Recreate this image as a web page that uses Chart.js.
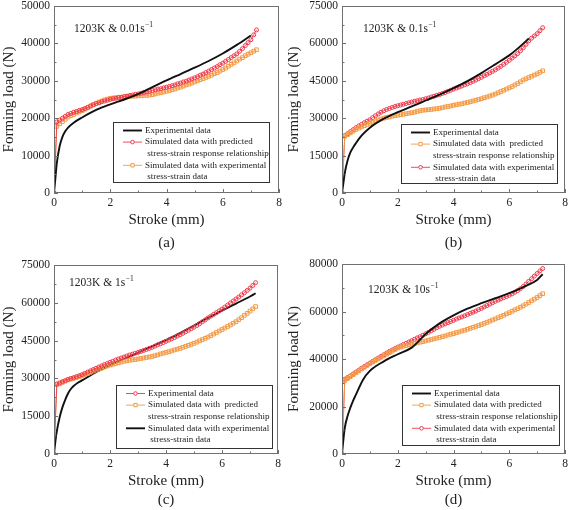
<!DOCTYPE html>
<html>
<head>
<meta charset="utf-8">
<script src="https://cdn.jsdelivr.net/npm/chart.js@4.4.0/dist/chart.umd.min.js"></script>
<style>
    body { margin: 0; background: #fff; }
    #wrap { position: relative; width: 570px; height: 510px; }
    canvas { position: absolute; }
</style>
</head>
<body>
<div id="wrap">
    <canvas id="panel-a" width="285" height="255" style="left:0;top:0"></canvas>
    <canvas id="panel-b" width="285" height="255" style="left:285px;top:0"></canvas>
    <canvas id="panel-c" width="285" height="255" style="left:0;top:255px"></canvas>
    <canvas id="panel-d" width="285" height="255" style="left:285px;top:255px"></canvas>
</div>
<script>
// Stroke positions of the simulated (marker) series, mm
const simStroke = [
    0, 0.1, 0.2, 0.3, 0.4, 0.5, 0.6, 0.7, 0.8, 0.9,
    1.0, 1.1, 1.2, 1.3, 1.4, 1.5, 1.6, 1.7, 1.8, 1.9,
    2.0, 2.1, 2.2, 2.3, 2.4, 2.5, 2.6, 2.7, 2.8, 2.9,
    3.0, 3.1, 3.2, 3.3, 3.4, 3.5, 3.6, 3.7, 3.8, 3.9,
    4.0, 4.1, 4.2, 4.3, 4.4, 4.5, 4.6, 4.7, 4.8, 4.9,
    5.0, 5.1, 5.2, 5.3, 5.4, 5.5, 5.6, 5.7, 5.8, 5.9,
    6.0, 6.1, 6.2, 6.3, 6.4, 6.5, 6.6, 6.7, 6.8, 6.9,
    7.0, 7.1, 7.2
];

// (a) 1203K & 0.01/s
const aExpStroke = [0, 0.05, 0.1, 0.2, 0.3, 0.4, 0.5, 0.7, 1.0, 1.5, 2.0, 2.5, 3.0, 3.5, 4.0, 4.5, 5.0, 5.5, 6.0, 6.5, 7.0];
const aExpLoad = [0, 4000, 8000, 12500, 15000, 16500, 17500, 18800, 20200, 22200, 23700, 25000, 26500, 28300, 30100, 31800, 33500, 35300, 37300, 39600, 42100];
const aPredLoad = [
    0, 19000, 19500, 20000, 20500, 21000, 21300, 21600, 21800, 22100,
    22300, 22600, 22900, 23300, 23600, 23900, 24100, 24400, 24600, 24800,
    25000, 25200, 25300, 25500, 25600, 25800, 25900, 26100, 26200, 26400,
    26500, 26700, 26900, 27000, 27200, 27400, 27600, 27800, 27900, 28100,
    28300, 28500, 28700, 28900, 29200, 29400, 29700, 29900, 30200, 30500,
    30800, 31100, 31500, 31800, 32200, 32600, 33000, 33400, 33800, 34300,
    34700, 35200, 35700, 36200, 36700, 37200, 37900, 38600, 39400, 40200,
    41000, 42300, 43600
];
const aSimExpLoad = [
    0, 17800, 18500, 19100, 19700, 20300, 20700, 21000, 21400, 21700,
    22000, 22400, 22800, 23200, 23600, 24000, 24300, 24600, 24900, 25100,
    25300, 25400, 25500, 25600, 25600, 25700, 25800, 25800, 25900, 25900,
    26000, 26000, 26100, 26100, 26200, 26300, 26500, 26700, 26800, 27000,
    27200, 27400, 27600, 27800, 28100, 28300, 28600, 28900, 29100, 29400,
    29700, 30000, 30300, 30600, 30900, 31200, 31500, 31900, 32200, 32600,
    33000, 33400, 33900, 34400, 34800, 35300, 35800, 36200, 36700, 37100,
    37500, 37900, 38300
];

// (b) 1203K & 0.1/s
const bExpStroke = [0, 0.05, 0.1, 0.2, 0.3, 0.4, 0.5, 0.7, 1.0, 1.5, 2.0, 2.5, 3.0, 3.5, 4.0, 4.5, 5.0, 5.5, 6.0, 6.3, 6.6, 6.7];
const bExpLoad = [0, 4000, 8000, 13000, 16300, 18300, 20000, 23000, 26200, 29800, 32400, 34700, 37100, 39500, 42100, 44900, 48100, 51600, 55200, 57900, 60900, 62000];
const bPredLoad = [
    0, 22800, 23400, 24100, 24800, 25500, 26000, 26500, 27000, 27500,
    28000, 28400, 28900, 29300, 29700, 30000, 30300, 30500, 30800, 31000,
    31200, 31400, 31600, 31800, 32000, 32200, 32400, 32700, 33000, 33200,
    33300, 33400, 33500, 33700, 33800, 34000, 34200, 34500, 34700, 34900,
    35200, 35400, 35600, 35800, 36100, 36300, 36600, 36900, 37200, 37500,
    37800, 38200, 38500, 38900, 39300, 39700, 40200, 40700, 41200, 41700,
    42200, 42700, 43300, 43900, 44600, 45300, 45800, 46300, 46800, 47300,
    47800, 48400, 49000
];
const bSimExpLoad = [
    0, 23000, 23800, 24600, 25400, 26200, 26900, 27500, 28200, 28800,
    29400, 30200, 31000, 31700, 32400, 33000, 33500, 33900, 34300, 34700,
    35000, 35300, 35600, 35900, 36200, 36500, 36800, 37000, 37300, 37500,
    37800, 38100, 38500, 38800, 39200, 39500, 39900, 40300, 40800, 41200,
    41700, 42100, 42500, 42900, 43400, 43800, 44300, 44800, 45300, 45900,
    46400, 47000, 47600, 48200, 48800, 49400, 50100, 50800, 51600, 52400,
    53200, 54100, 55000, 55900, 57000, 58200, 59600, 61000, 62100, 63000,
    63900, 65100, 66300
];

// (c) 1203K & 1/s
const cExpLoad = [
    0, 27800, 28200, 28700, 29100, 29600, 30000, 30300, 30700, 31100,
    31500, 32000, 32500, 33000, 33500, 34000, 34500, 35000, 35500, 35900,
    36400, 36800, 37300, 37700, 38100, 38500, 38900, 39300, 39600, 40000,
    40300, 40700, 41100, 41500, 41900, 42300, 42800, 43300, 43700, 44200,
    44700, 45200, 45700, 46200, 46800, 47300, 47900, 48500, 49100, 49700,
    50300, 51000, 51700, 52500, 53200, 54000, 54700, 55400, 56100, 56800,
    57500, 58300, 59100, 59900, 60700, 61500, 62300, 63200, 64000, 64900,
    65800, 66900, 68000
];
const cPredLoad = [
    0, 27500, 27900, 28400, 28900, 29400, 29700, 30000, 30300, 30700,
    31000, 31500, 31900, 32400, 32900, 33300, 33700, 34100, 34500, 34900,
    35300, 35600, 35900, 36200, 36500, 36800, 37000, 37200, 37400, 37500,
    37700, 37900, 38100, 38300, 38500, 38700, 39000, 39300, 39700, 40000,
    40300, 40600, 40900, 41300, 41600, 41900, 42300, 42700, 43100, 43500,
    43900, 44400, 44900, 45400, 45900, 46400, 47000, 47600, 48200, 48800,
    49400, 50000, 50600, 51200, 51900, 52500, 53300, 54100, 55000, 55800,
    56700, 57600, 58500
];
const cSimExpStroke = [0, 0.05, 0.1, 0.2, 0.3, 0.4, 0.5, 0.6, 0.7, 0.85, 1.0, 1.5, 2.0, 2.5, 3.0, 3.5, 4.0, 4.5, 5.0, 5.5, 6.0, 6.5, 7.0, 7.2];
const cSimExpLoad = [0, 5000, 9000, 14500, 18500, 21500, 24000, 25800, 27000, 28300, 29200, 32500, 35200, 37700, 40200, 42700, 45300, 48000, 51000, 54000, 56900, 59700, 62500, 63800];

// (d) 1203K & 10/s
const dExpStroke = [0, 0.05, 0.1, 0.2, 0.3, 0.4, 0.5, 0.75, 1.0, 1.5, 2.0, 2.5, 2.75, 3.0, 3.5, 4.0, 4.5, 5.0, 5.5, 6.0, 6.5, 7.0, 7.2];
const dExpLoad = [0, 6000, 11000, 16000, 19500, 22500, 25000, 31200, 35000, 39000, 42000, 44800, 47500, 50500, 55000, 58400, 61200, 63500, 65600, 67700, 70300, 73300, 75700];
const dPredLoad = [
    0, 31000, 31800, 32600, 33400, 34200, 35000, 35800, 36500, 37300,
    38000, 38700, 39400, 40000, 40700, 41300, 42000, 42700, 43300, 44000,
    44600, 45000, 45400, 45700, 46000, 46300, 46600, 46800, 47100, 47300,
    47600, 47900, 48200, 48500, 48800, 49100, 49400, 49700, 50100, 50400,
    50700, 51100, 51400, 51800, 52100, 52500, 52900, 53300, 53700, 54100,
    54500, 55000, 55400, 55900, 56400, 56900, 57400, 57900, 58400, 59000,
    59500, 60100, 60700, 61200, 61800, 62400, 63100, 63800, 64500, 65200,
    65900, 66700, 67500
];
const dSimExpLoad = [
    0, 31500, 32200, 32900, 33700, 34500, 35300, 36100, 36800, 37600,
    38300, 39000, 39700, 40400, 41100, 41800, 42500, 43200, 43800, 44400,
    45000, 45500, 46100, 46600, 47200, 47700, 48300, 48900, 49400, 50000,
    50600, 51200, 51900, 52500, 53200, 53800, 54300, 54800, 55300, 55800,
    56300, 56800, 57300, 57700, 58200, 58700, 59200, 59700, 60200, 60800,
    61300, 61900, 62500, 63100, 63700, 64300, 64800, 65300, 65800, 66300,
    66800, 67400, 68100, 68800, 69600, 70500, 71600, 72700, 73800, 74900,
    76000, 77100, 78100
];

// Legend texts
const LBL_EXP = 'Experimental data';
const LBL_PRED = 'Simulated data with predicted\n stress-strain response relationship';
const LBL_PRED2 = 'Simulated data with  predicted\nstress-strain response relationship';
const LBL_SIMEXP = 'Simulated data with experimental\n stress-strain data';

const RED = '#ee3a4c';
const ORANGE = '#f49a44';
const BLACK = '#111111';
const SERIF = '"Liberation Serif", "DejaVu Serif", serif';

function pts(xs, ys) {
    return xs.map((x, i) => ({ x: x, y: ys[i] }));
}

// Solid curve without markers
function lineSeries(label, xs, ys) {
    return {
        label: label,
        data: pts(xs, ys),
        borderColor: BLACK,
        borderWidth: 1.9,
        pointRadius: 0,
        cubicInterpolationMode: 'monotone'
    };
}

// Thin line with hollow markers
function markSeries(label, xs, ys, color, style) {
    return {
        label: label,
        data: pts(xs, ys),
        borderColor: color,
        borderWidth: 0.9,
        tension: 0,
        pointStyle: style,
        pointRadius: style === 'rect' ? 2.6 : 2.0,
        pointBorderWidth: 1,
        pointBorderColor: color,
        pointBackgroundColor: 'rgba(255,255,255,0)'
    };
}

// Frame, inward ticks, condition text and boxed legend
const panelDecor = {
    id: 'panelDecor',
    afterDatasetsDraw(chart, args, opts) {
        const ctx = chart.ctx;
        const area = chart.chartArea;
        const xs = chart.scales.x;
        const ys = chart.scales.y;
        ctx.save();

        ctx.strokeStyle = '#707070';
        ctx.lineWidth = 1;
        ctx.strokeRect(area.left + 0.5, area.top + 0.5, area.right - area.left - 1, area.bottom - area.top - 1);

        ctx.beginPath();
        xs.ticks.forEach(t => {
            const px = Math.round(xs.getPixelForValue(t.value)) + 0.5;
            const len = t.value % 2 === 0 ? 4 : 2.5;
            ctx.moveTo(px, area.bottom);
            ctx.lineTo(px, area.bottom - len);
        });
        ys.ticks.forEach((t, i) => {
            const py = Math.round(ys.getPixelForValue(t.value)) + 0.5;
            const len = i % 2 === 0 ? 4 : 2.5;
            ctx.moveTo(area.left, py);
            ctx.lineTo(area.left + len, py);
        });
        ctx.stroke();

        // condition text, e.g. 1203K & 0.01s^-1
        ctx.fillStyle = '#222';
        ctx.textBaseline = 'middle';
        ctx.textAlign = 'left';
        ctx.font = '11.5px ' + SERIF;
        ctx.fillText(opts.note, opts.noteX, opts.noteY);
        const w = ctx.measureText(opts.note).width;
        ctx.font = '7.5px ' + SERIF;
        ctx.fillText('\u22121', opts.noteX + w + 0.5, opts.noteY - 4);

        // legend box
        const b = opts.box;
        ctx.fillStyle = '#fff';
        ctx.fillRect(b[0], b[1], b[2], b[3]);
        ctx.strokeStyle = '#333';
        ctx.lineWidth = 1;
        ctx.strokeRect(b[0] + 0.5, b[1] + 0.5, b[2], b[3]);

        ctx.font = '9px ' + SERIF;
        let row = 0;
        chart.data.datasets.forEach(ds => {
            const y = b[1] + 8.5 + row * 11.6;
            const x0 = b[0] + 10;
            const x1 = b[0] + 29;
            ctx.strokeStyle = ds.borderColor;
            ctx.lineWidth = ds.borderWidth;
            ctx.beginPath();
            ctx.moveTo(x0, y);
            ctx.lineTo(x1, y);
            ctx.stroke();
            if (ds.pointRadius > 0) {
                ctx.fillStyle = '#fff';
                ctx.strokeStyle = ds.pointBorderColor;
                ctx.lineWidth = ds.pointBorderWidth;
                Chart.helpers.drawPoint(ctx, {
                    pointStyle: ds.pointStyle,
                    radius: ds.pointRadius * 0.9,
                    borderWidth: ds.pointBorderWidth,
                    rotation: 0
                }, (x0 + x1) / 2, y);
            }
            ctx.fillStyle = '#222';
            ds.label.split('\n').forEach(line => {
                ctx.fillText(line, b[0] + 32, b[1] + 8.5 + row * 11.6);
                row++;
            });
        });

        ctx.restore();
    }
};

function makePanel(id, cfg) {
    const tickFont = { family: SERIF, size: 11.5 };
    return new Chart(document.getElementById(id), {
        type: 'line',
        data: { datasets: cfg.datasets },
        options: {
            responsive: false,
            animation: false,
            events: [],
            layout: { padding: { left: 0, top: cfg.top, right: cfg.right, bottom: 0 } },
            plugins: {
                legend: { display: false },
                tooltip: { enabled: false },
                panelDecor: { note: cfg.note, noteX: cfg.noteX, noteY: cfg.noteY, box: cfg.box }
            },
            scales: {
                x: {
                    type: 'linear',
                    min: 0,
                    max: 8,
                    grid: { display: false, drawTicks: false },
                    border: { display: false },
                    ticks: {
                        stepSize: 1,
                        autoSkip: false,
                        maxRotation: 0,
                        padding: 3,
                        color: '#222',
                        font: tickFont,
                        callback: v => (v % 2 === 0 ? String(v) : '')
                    },
                    title: {
                        display: true,
                        text: ['Stroke (mm)', cfg.tag],
                        color: '#222',
                        font: { family: SERIF, size: 15, lineHeight: cfg.titleLH },
                        padding: { top: 0, bottom: cfg.titlePad }
                    },
                    afterFit: s => {
                        s.height = cfg.xHeight;
                        s.paddingLeft = 0; s.paddingRight = 0; s.paddingTop = 0; s.paddingBottom = 0;
                    }
                },
                y: {
                    min: 0,
                    max: cfg.yMax,
                    grid: { display: false, drawTicks: false },
                    border: { display: false },
                    ticks: {
                        stepSize: cfg.yStep,
                        autoSkip: false,
                        padding: 4,
                        color: '#222',
                        font: tickFont,
                        callback: (v, i) => (i % 2 === 0 ? String(v) : '')
                    },
                    title: {
                        display: true,
                        text: 'Forming load (N)',
                        color: '#222',
                        font: { family: SERIF, size: 15, lineHeight: 1.2 },
                        padding: { top: 0, bottom: 0 }
                    },
                    afterFit: s => {
                        s.width = cfg.yWidth;
                        s.paddingLeft = 0; s.paddingRight = 0; s.paddingTop = 0; s.paddingBottom = 0;
                    }
                }
            }
        },
        plugins: [panelDecor]
    });
}

makePanel('panel-a', {
    datasets: [
        lineSeries(LBL_EXP, aExpStroke, aExpLoad),
        markSeries(LBL_PRED, simStroke, aPredLoad, RED, 'circle'),
        markSeries(LBL_SIMEXP, simStroke, aSimExpLoad, ORANGE, 'rect')
    ],
    yMax: 50000, yStep: 5000,
    top: 6, right: 6, yWidth: 54, xHeight: 62,
    tag: '(a)', titleLH: 1.53, titlePad: 0.5,
    note: '1203K & 0.01s', noteX: 74, noteY: 29,
    box: [113, 122, 156, 60]
});

makePanel('panel-b', {
    datasets: [
        lineSeries(LBL_EXP, bExpStroke, bExpLoad),
        markSeries(LBL_PRED2, simStroke, bPredLoad, ORANGE, 'rect'),
        markSeries(LBL_SIMEXP, simStroke, bSimExpLoad, RED, 'circle')
    ],
    yMax: 75000, yStep: 7500,
    top: 6, right: 3, yWidth: 57, xHeight: 62,
    tag: '(b)', titleLH: 1.53, titlePad: 0.5,
    note: '1203K & 0.1s', noteX: 78, noteY: 29,
    box: [116, 124, 156, 59]
});

makePanel('panel-c', {
    datasets: [
        markSeries(LBL_EXP, simStroke, cExpLoad, RED, 'circle'),
        markSeries(LBL_PRED2, simStroke, cPredLoad, ORANGE, 'rect'),
        lineSeries(LBL_SIMEXP, cSimExpStroke, cSimExpLoad)
    ],
    yMax: 75000, yStep: 7500,
    top: 10, right: 7, yWidth: 54, xHeight: 56,
    tag: '(c)', titleLH: 1.27, titlePad: 0,
    note: '1203K & 1s', noteX: 69, noteY: 28,
    box: [116, 130, 156, 63]
});

makePanel('panel-d', {
    datasets: [
        lineSeries(LBL_EXP, dExpStroke, dExpLoad),
        markSeries(LBL_PRED, simStroke, dPredLoad, ORANGE, 'rect'),
        markSeries(LBL_SIMEXP, simStroke, dSimExpLoad, RED, 'circle')
    ],
    yMax: 80000, yStep: 10000,
    top: 9, right: 3, yWidth: 57, xHeight: 56,
    tag: '(d)', titleLH: 1.27, titlePad: 0,
    note: '1203K & 10s', noteX: 83, noteY: 35,
    box: [117, 130, 157, 60]
});
</script>
</body>
</html>
